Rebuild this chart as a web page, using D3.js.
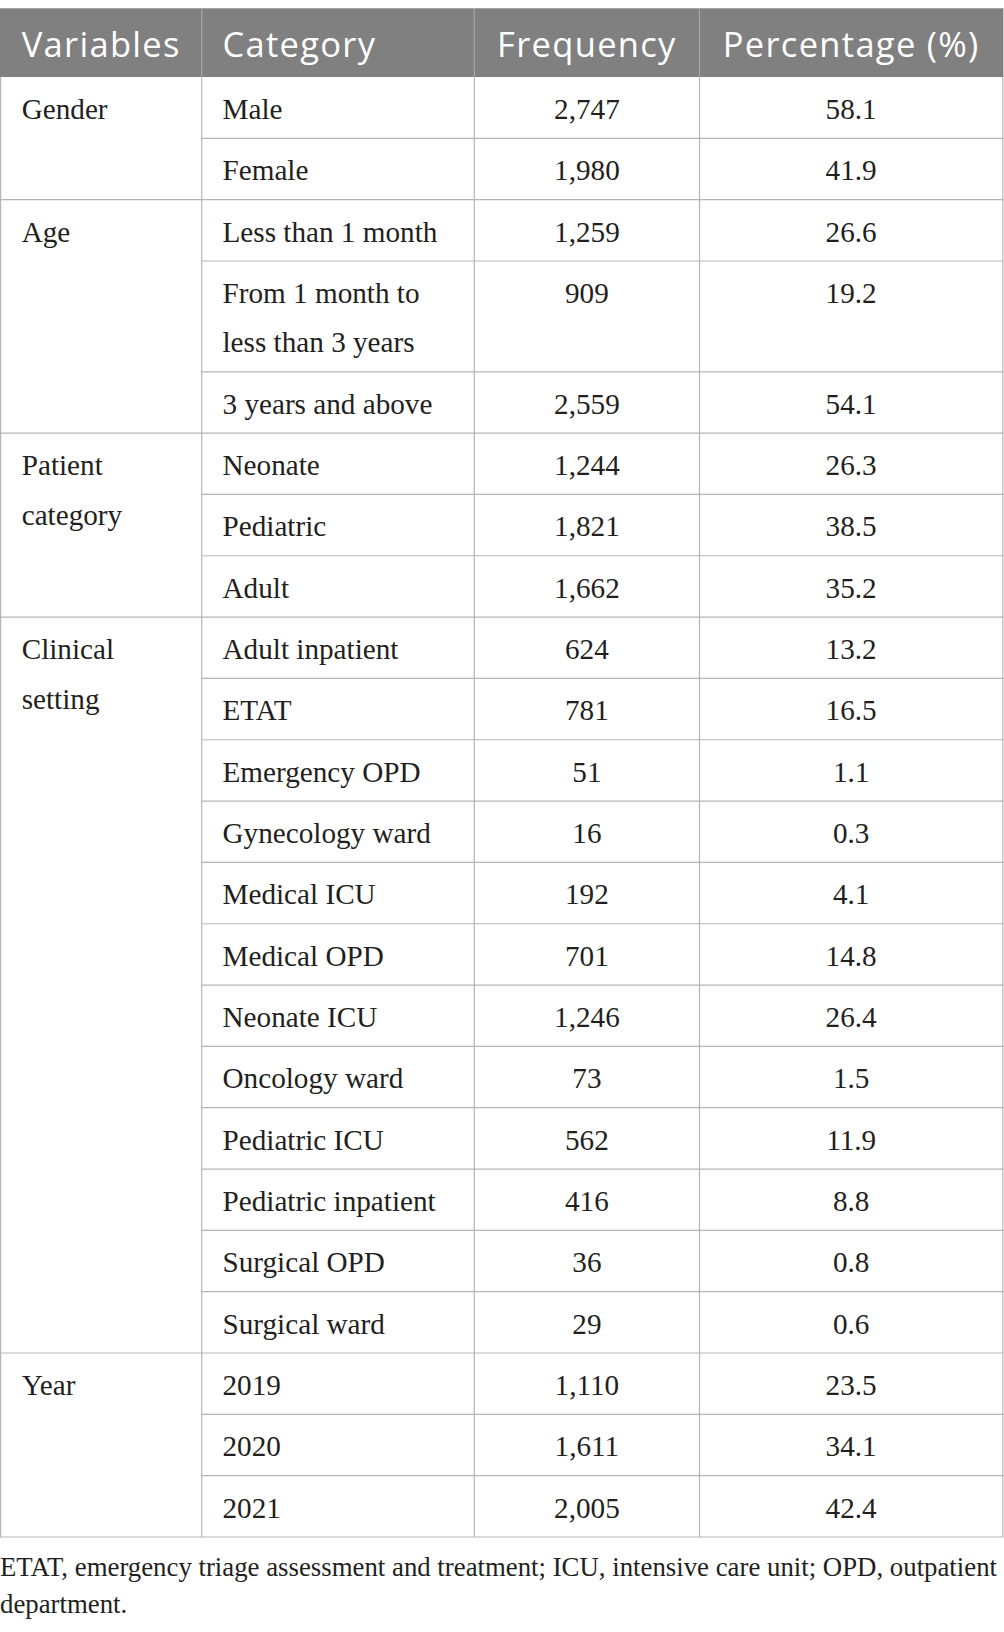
<!DOCTYPE html>
<html>
<head>
<meta charset="utf-8">
<script src="https://cdn.jsdelivr.net/npm/d3@7"></script>
<style>
  html, body { margin: 0; padding: 0; background: #ffffff; }
  svg { display: block; }
</style>
</head>
<body>
<div id="chart"></div>
<script>
// ---------------- DATA ----------------
const headers = ["Variables", "Category", "Frequency", "Percentage (%)"];
const groupLabels = [["Gender"], ["Age"], ["Patient", "category"], ["Clinical", "setting"], ["Year"]];
const groupSizes = [2, 3, 3, 12, 3];
const categories = [
  ["Male"], ["Female"],
  ["Less than 1 month"], ["From 1 month to", "less than 3 years"], ["3 years and above"],
  ["Neonate"], ["Pediatric"], ["Adult"],
  ["Adult inpatient"], ["ETAT"], ["Emergency OPD"], ["Gynecology ward"], ["Medical ICU"],
  ["Medical OPD"], ["Neonate ICU"], ["Oncology ward"], ["Pediatric ICU"], ["Pediatric inpatient"],
  ["Surgical OPD"], ["Surgical ward"],
  ["2019"], ["2020"], ["2021"]
];
const frequency = [2747, 1980, 1259, 909, 2559, 1244, 1821, 1662, 624, 781, 51, 16, 192, 701, 1246, 73, 562, 416, 36, 29, 1110, 1611, 2005];
const percentage = [58.1, 41.9, 26.6, 19.2, 54.1, 26.3, 38.5, 35.2, 13.2, 16.5, 1.1, 0.3, 4.1, 14.8, 26.4, 1.5, 11.9, 8.8, 0.8, 0.6, 23.5, 34.1, 42.4];
const footnoteLines = [
  "ETAT, emergency triage assessment and treatment; ICU, intensive care unit; OPD, outpatient",
  "department."
];

// ---------------- LAYOUT ----------------
const W = 1004, H = 1632;
const headerTop = 8, headerBottom = 77, tableBottom = 1537;
const colEdges = [0.6, 201.7, 474.3, 699.5, 1002.8];
const extraLineUnits = 49.5 / 61.35; // extra height of a wrapped line, in row units
const lineGap = 49.5;
const serif = "'Liberation Serif', 'Times New Roman', serif";
const sans = "'Open Sans', 'Noto Sans', sans-serif";
const textColor = "#231f20";
const borderColor = "#b5b5b5";
const bodySize = 29.2;

// Row positions in "row units"
const rowUnits = categories.map(c => 1 + (c.length - 1) * extraLineUnits);
const rowStart = [];
let acc = 0;
rowUnits.forEach(u => { rowStart.push(acc); acc += u; });
const totalUnits = acc;
const y = d3.scaleLinear().domain([0, totalUnits]).range([headerBottom, tableBottom]);

// group -> first row index
const groupStart = [];
let gi = 0;
groupSizes.forEach(s => { groupStart.push(gi); gi += s; });
const groupBoundary = new Set(groupStart);

const fmtFreq = d3.format(",");
const fmtPct = d3.format(".1f");

const svg = d3.select("#chart").append("svg")
  .attr("width", W).attr("height", H)
  .attr("viewBox", `0 0 ${W} ${H}`);

// header background
svg.append("rect")
  .attr("x", colEdges[0] - 0.6).attr("y", headerTop)
  .attr("width", colEdges[4] - colEdges[0] + 1.2).attr("height", headerBottom - headerTop)
  .attr("fill", "#808080");
// header top border
svg.append("line")
  .attr("x1", 0).attr("x2", colEdges[4] + 0.6)
  .attr("y1", headerTop + 0.5).attr("y2", headerTop + 0.5)
  .attr("stroke", "#a6a6a6").attr("stroke-width", 1.2);
// header dividers
svg.selectAll("line.hdiv").data(colEdges.slice(1, 4)).join("line")
  .attr("class", "hdiv")
  .attr("x1", d => d).attr("x2", d => d)
  .attr("y1", headerTop).attr("y2", headerBottom)
  .attr("stroke", "#a6a6a6").attr("stroke-width", 1.2);

// header texts
const headerX = [21.7, 222.5, (colEdges[2] + colEdges[3]) / 2, (colEdges[3] + colEdges[4]) / 2];
const headerAnchor = ["start", "start", "middle", "middle"];
svg.selectAll("text.hdr").data(headers).join("text")
  .attr("class", "hdr")
  .attr("x", (d, i) => headerX[i])
  .attr("y", 56.7)
  .attr("text-anchor", (d, i) => headerAnchor[i])
  .attr("font-family", sans)
  .attr("font-size", 34.5)
  .attr("letter-spacing", 1.3)
  .attr("fill", "#ffffff")
  .text(d => d);

// body vertical lines
svg.selectAll("line.vline").data(colEdges).join("line")
  .attr("class", "vline")
  .attr("x1", d => d).attr("x2", d => d)
  .attr("y1", headerBottom).attr("y2", tableBottom)
  .attr("stroke", borderColor).attr("stroke-width", 1.2);

// body horizontal lines (bottom of each row)
svg.selectAll("line.hline").data(categories.map((c, i) => i)).join("line")
  .attr("class", "hline")
  .attr("x1", i => (i === categories.length - 1 || groupBoundary.has(i + 1)) ? 0 : colEdges[1])
  .attr("x2", colEdges[4] + 0.6)
  .attr("y1", i => y(rowStart[i] + rowUnits[i]))
  .attr("y2", i => y(rowStart[i] + rowUnits[i]))
  .attr("stroke", borderColor).attr("stroke-width", 1.2);

// group labels
const gSel = svg.selectAll("text.grp").data(groupLabels).join("text")
  .attr("class", "grp")
  .attr("font-family", serif).attr("font-size", bodySize).attr("fill", textColor);
gSel.each(function (lines, g) {
  const top = y(rowStart[groupStart[g]]);
  d3.select(this).selectAll("tspan").data(lines).join("tspan")
    .attr("x", 21.7)
    .attr("y", (d, k) => top + 42 + k * lineGap)
    .text(d => d);
});

// category labels
const cSel = svg.selectAll("text.cat").data(categories).join("text")
  .attr("class", "cat")
  .attr("font-family", serif).attr("font-size", bodySize).attr("fill", textColor);
cSel.each(function (lines, i) {
  const top = y(rowStart[i]);
  d3.select(this).selectAll("tspan").data(lines).join("tspan")
    .attr("x", 222.5)
    .attr("y", (d, k) => top + 42 + k * lineGap)
    .text(d => d);
});

// frequency
svg.selectAll("text.freq").data(frequency).join("text")
  .attr("class", "freq")
  .attr("x", headerX[2])
  .attr("y", (d, i) => y(rowStart[i]) + 42)
  .attr("text-anchor", "middle")
  .attr("font-family", serif).attr("font-size", bodySize).attr("fill", textColor)
  .text(d => fmtFreq(d));

// percentage
svg.selectAll("text.pct").data(percentage).join("text")
  .attr("class", "pct")
  .attr("x", headerX[3])
  .attr("y", (d, i) => y(rowStart[i]) + 42)
  .attr("text-anchor", "middle")
  .attr("font-family", serif).attr("font-size", bodySize).attr("fill", textColor)
  .text(d => fmtPct(d));

// footnote
svg.selectAll("text.foot").data(footnoteLines).join("text")
  .attr("class", "foot")
  .attr("x", 0)
  .attr("y", (d, i) => 1576 + i * 37)
  .attr("font-family", serif).attr("font-size", 26.8).attr("fill", textColor)
  .text(d => d);
</script>
</body>
</html>
